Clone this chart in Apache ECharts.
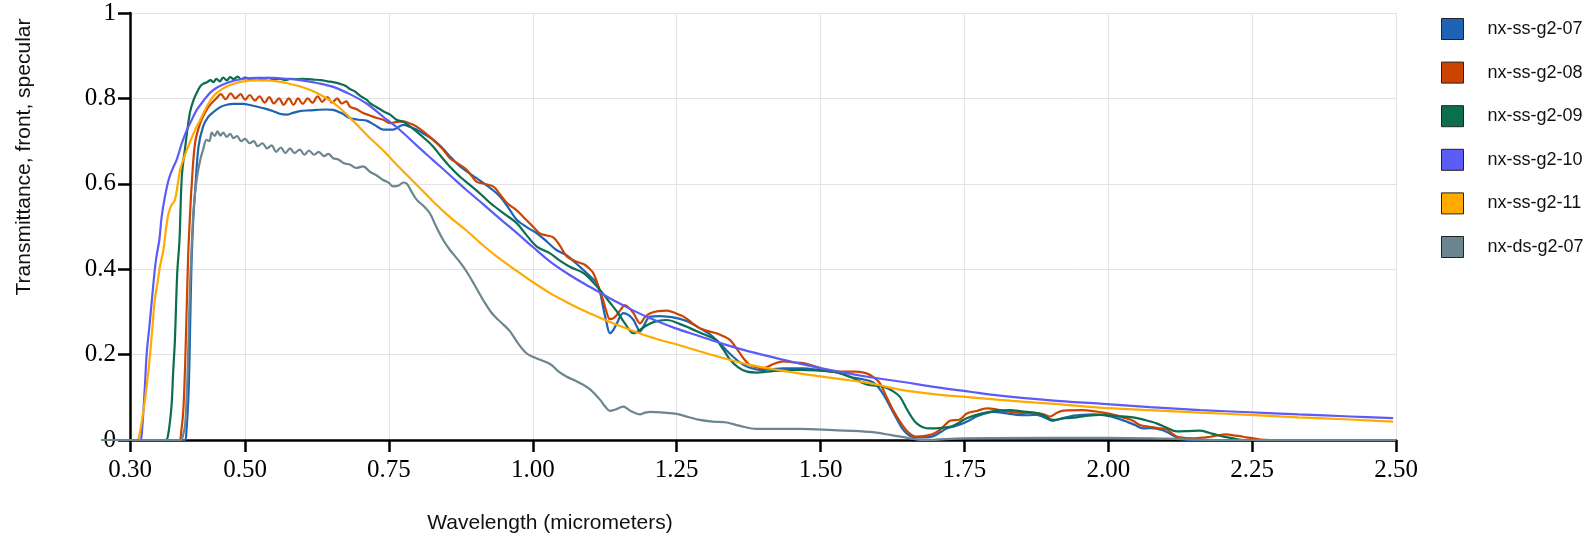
<!DOCTYPE html>
<html><head><meta charset="utf-8">
<script src="https://cdn.jsdelivr.net/npm/echarts@6/dist/echarts.min.js"></script>
<style>html,body{margin:0;padding:0;background:#fff}#c{width:1589px;height:538px}</style>
</head><body><div id="c"></div>
<script>
const seriesNames = ['nx-ss-g2-07','nx-ss-g2-08','nx-ss-g2-09','nx-ss-g2-10','nx-ss-g2-11','nx-ds-g2-07'];
const xTickValues = [0.30,0.50,0.75,1.00,1.25,1.50,1.75,2.00,2.25,2.50];
const xTitle = 'Wavelength (micrometers)';
const yTitle = 'Transmittance, front, specular';

const ss07 = [[0.25,0],[0.395,0],[0.398,0.02],[0.402,0.12],[0.405,0.3],[0.407,0.42],[0.41,0.52],[0.413,0.58],[0.419,0.687],[0.427,0.734],[0.435,0.755],[0.445,0.768],[0.456,0.779],[0.468,0.785],[0.48,0.787],[0.497,0.787],[0.51,0.784],[0.52,0.781],[0.535,0.776],[0.549,0.77],[0.56,0.764],[0.572,0.762],[0.583,0.766],[0.595,0.77],[0.61,0.772],[0.624,0.773],[0.64,0.774],[0.653,0.773],[0.668,0.765],[0.682,0.754],[0.697,0.75],[0.711,0.748],[0.725,0.738],[0.74,0.727],[0.757,0.727],[0.775,0.738],[0.787,0.733],[0.798,0.727],[0.812,0.716],[0.827,0.703],[0.842,0.685],[0.856,0.664],[0.87,0.645],[0.885,0.629],[0.9,0.615],[0.914,0.602],[0.929,0.587],[0.943,0.57],[0.957,0.545],[0.972,0.516],[0.99,0.498],[1.007,0.484],[1.024,0.465],[1.041,0.445],[1.059,0.432],[1.075,0.414],[1.088,0.398],[1.1,0.383],[1.111,0.367],[1.117,0.345],[1.122,0.312],[1.128,0.275],[1.134,0.25],[1.14,0.258],[1.146,0.273],[1.152,0.29],[1.157,0.297],[1.166,0.293],[1.175,0.281],[1.181,0.265],[1.186,0.254],[1.192,0.265],[1.198,0.281],[1.204,0.289],[1.22,0.29],[1.233,0.289],[1.248,0.286],[1.262,0.281],[1.276,0.273],[1.29,0.262],[1.305,0.25],[1.319,0.234],[1.333,0.215],[1.348,0.195],[1.366,0.176],[1.38,0.168],[1.395,0.164],[1.415,0.166],[1.435,0.168],[1.45,0.168],[1.47,0.168],[1.5,0.163],[1.522,0.16],[1.537,0.155],[1.551,0.148],[1.57,0.143],[1.586,0.138],[1.597,0.129],[1.61,0.105],[1.621,0.078],[1.633,0.048],[1.644,0.023],[1.655,0.01],[1.667,0.006],[1.682,0.006],[1.696,0.009],[1.708,0.018],[1.719,0.027],[1.735,0.033],[1.748,0.039],[1.76,0.047],[1.771,0.055],[1.786,0.062],[1.8,0.066],[1.82,0.063],[1.841,0.059],[1.86,0.058],[1.876,0.059],[1.89,0.052],[1.904,0.045],[1.915,0.049],[1.927,0.053],[1.94,0.057],[1.956,0.059],[1.975,0.06],[1.991,0.059],[2.01,0.053],[2.032,0.043],[2.045,0.036],[2.061,0.027],[2.075,0.028],[2.095,0.023],[2.108,0.014],[2.119,0.006],[2.13,0.002],[2.15,0],[2.5,0]];

const ss08 = [[0.25,0],[0.385,0],[0.389,0.02],[0.393,0.078],[0.397,0.234],[0.401,0.43],[0.404,0.52],[0.407,0.594],[0.413,0.695],[0.422,0.742],[0.433,0.773],[0.44,0.786],[0.45,0.8],[0.458,0.81],[0.466,0.798],[0.475,0.812],[0.483,0.8],[0.492,0.81],[0.5,0.797],[0.508,0.808],[0.517,0.795],[0.525,0.805],[0.534,0.79],[0.542,0.803],[0.55,0.788],[0.559,0.8],[0.567,0.785],[0.576,0.8],[0.584,0.785],[0.592,0.8],[0.6,0.787],[0.609,0.8],[0.617,0.79],[0.626,0.805],[0.634,0.792],[0.643,0.803],[0.651,0.79],[0.66,0.8],[0.668,0.788],[0.676,0.793],[0.682,0.781],[0.693,0.775],[0.705,0.766],[0.717,0.76],[0.729,0.754],[0.74,0.75],[0.752,0.742],[0.763,0.745],[0.775,0.746],[0.787,0.741],[0.798,0.734],[0.812,0.72],[0.827,0.703],[0.842,0.683],[0.856,0.66],[0.87,0.647],[0.885,0.633],[0.894,0.618],[0.902,0.605],[0.915,0.6],[0.931,0.594],[0.943,0.575],[0.955,0.555],[0.97,0.54],[0.983,0.523],[0.998,0.503],[1.012,0.484],[1.024,0.479],[1.036,0.474],[1.047,0.455],[1.059,0.43],[1.075,0.418],[1.088,0.412],[1.097,0.403],[1.105,0.391],[1.114,0.36],[1.122,0.328],[1.128,0.3],[1.134,0.283],[1.14,0.285],[1.146,0.293],[1.153,0.306],[1.16,0.316],[1.168,0.308],[1.175,0.297],[1.181,0.282],[1.186,0.273],[1.195,0.288],[1.204,0.297],[1.218,0.302],[1.233,0.303],[1.248,0.297],[1.262,0.289],[1.276,0.275],[1.29,0.262],[1.305,0.255],[1.319,0.25],[1.331,0.243],[1.343,0.234],[1.352,0.218],[1.36,0.203],[1.368,0.188],[1.377,0.176],[1.39,0.17],[1.4,0.168],[1.418,0.178],[1.435,0.184],[1.452,0.182],[1.47,0.18],[1.496,0.17],[1.522,0.16],[1.542,0.16],[1.562,0.16],[1.58,0.156],[1.592,0.147],[1.603,0.133],[1.615,0.1],[1.626,0.07],[1.638,0.043],[1.649,0.023],[1.658,0.012],[1.667,0.008],[1.679,0.009],[1.69,0.012],[1.698,0.016],[1.707,0.023],[1.716,0.035],[1.725,0.045],[1.742,0.048],[1.754,0.062],[1.771,0.068],[1.789,0.074],[1.812,0.07],[1.841,0.064],[1.876,0.063],[1.888,0.06],[1.899,0.055],[1.91,0.063],[1.922,0.069],[1.956,0.07],[1.991,0.064],[2.01,0.059],[2.025,0.053],[2.043,0.045],[2.055,0.035],[2.072,0.031],[2.086,0.028],[2.101,0.025],[2.112,0.014],[2.124,0.006],[2.15,0.004],[2.175,0.007],[2.19,0.011],[2.205,0.013],[2.217,0.011],[2.229,0.009],[2.24,0.006],[2.252,0.004],[2.265,0.001],[2.28,0],[2.5,0]];

const ss09 = [[0.25,0],[0.362,0],[0.366,0.01],[0.372,0.078],[0.375,0.16],[0.378,0.234],[0.382,0.39],[0.386,0.469],[0.39,0.617],[0.396,0.687],[0.404,0.766],[0.41,0.795],[0.416,0.813],[0.422,0.828],[0.427,0.834],[0.434,0.838],[0.44,0.843],[0.445,0.838],[0.45,0.846],[0.456,0.84],[0.462,0.849],[0.468,0.842],[0.474,0.85],[0.48,0.845],[0.487,0.851],[0.493,0.845],[0.5,0.849],[0.51,0.844],[0.52,0.847],[0.53,0.843],[0.54,0.848],[0.55,0.844],[0.56,0.846],[0.57,0.843],[0.58,0.846],[0.59,0.845],[0.6,0.846],[0.61,0.845],[0.62,0.844],[0.632,0.843],[0.643,0.84],[0.653,0.838],[0.665,0.834],[0.675,0.829],[0.682,0.822],[0.69,0.817],[0.7,0.806],[0.711,0.797],[0.717,0.789],[0.728,0.78],[0.74,0.77],[0.752,0.762],[0.763,0.75],[0.775,0.745],[0.787,0.734],[0.8,0.72],[0.813,0.705],[0.827,0.687],[0.84,0.665],[0.856,0.64],[0.873,0.617],[0.89,0.598],[0.91,0.575],[0.926,0.555],[0.95,0.53],[0.972,0.508],[0.99,0.478],[1.007,0.453],[1.03,0.437],[1.047,0.42],[1.065,0.405],[1.088,0.391],[1.103,0.372],[1.117,0.351],[1.132,0.325],[1.146,0.301],[1.16,0.273],[1.175,0.25],[1.19,0.262],[1.204,0.273],[1.218,0.279],[1.233,0.281],[1.255,0.272],[1.273,0.262],[1.296,0.248],[1.319,0.234],[1.331,0.212],[1.343,0.188],[1.357,0.17],[1.372,0.16],[1.39,0.158],[1.406,0.16],[1.435,0.163],[1.464,0.164],[1.49,0.163],[1.522,0.16],[1.551,0.148],[1.58,0.13],[1.609,0.125],[1.625,0.115],[1.638,0.101],[1.65,0.072],[1.66,0.05],[1.667,0.039],[1.678,0.03],[1.69,0.027],[1.707,0.028],[1.725,0.031],[1.74,0.04],[1.754,0.051],[1.774,0.06],[1.794,0.066],[1.81,0.069],[1.829,0.07],[1.85,0.067],[1.876,0.063],[1.89,0.056],[1.904,0.047],[1.925,0.051],[1.945,0.053],[1.965,0.057],[1.985,0.059],[2.015,0.056],[2.043,0.053],[2.063,0.047],[2.084,0.039],[2.1,0.03],[2.119,0.02],[2.14,0.021],[2.159,0.022],[2.175,0.017],[2.188,0.012],[2.2,0.008],[2.217,0.004],[2.235,0],[2.5,0]];

const ss10 = [[0.25,0],[0.318,0],[0.32,0.01],[0.323,0.063],[0.326,0.13],[0.329,0.203],[0.334,0.27],[0.338,0.328],[0.343,0.398],[0.346,0.43],[0.351,0.469],[0.355,0.523],[0.36,0.565],[0.367,0.609],[0.374,0.635],[0.381,0.656],[0.39,0.695],[0.399,0.727],[0.408,0.752],[0.416,0.773],[0.428,0.795],[0.439,0.813],[0.452,0.826],[0.468,0.836],[0.482,0.842],[0.497,0.846],[0.52,0.848],[0.549,0.848],[0.572,0.846],[0.595,0.843],[0.625,0.836],[0.653,0.827],[0.682,0.81],[0.711,0.788],[0.74,0.757],[0.769,0.726],[0.798,0.69],[0.827,0.655],[0.856,0.62],[0.885,0.585],[0.914,0.552],[0.943,0.518],[0.972,0.485],[1.0,0.452],[1.03,0.418],[1.06,0.39],[1.088,0.367],[1.117,0.345],[1.146,0.323],[1.175,0.303],[1.204,0.285],[1.247,0.262],[1.29,0.243],[1.333,0.224],[1.377,0.207],[1.42,0.193],[1.464,0.179],[1.52,0.163],[1.586,0.147],[1.638,0.137],[1.7,0.124],[1.76,0.113],[1.812,0.104],[1.9,0.093],[1.985,0.085],[2.072,0.077],[2.16,0.07],[2.246,0.065],[2.33,0.06],[2.42,0.055],[2.495,0.051]];

const ss11 = [[0.25,0],[0.312,0],[0.316,0.01],[0.32,0.04],[0.326,0.094],[0.331,0.15],[0.335,0.203],[0.339,0.265],[0.343,0.328],[0.348,0.37],[0.352,0.406],[0.358,0.445],[0.363,0.5],[0.367,0.531],[0.372,0.55],[0.378,0.562],[0.383,0.6],[0.387,0.633],[0.394,0.662],[0.401,0.687],[0.41,0.717],[0.422,0.75],[0.433,0.78],[0.445,0.805],[0.456,0.818],[0.468,0.828],[0.482,0.835],[0.497,0.84],[0.518,0.842],[0.538,0.842],[0.555,0.84],[0.572,0.836],[0.6,0.826],[0.624,0.813],[0.653,0.79],[0.682,0.755],[0.711,0.715],[0.74,0.678],[0.769,0.637],[0.798,0.598],[0.827,0.558],[0.856,0.522],[0.885,0.49],[0.91,0.46],[0.937,0.43],[0.97,0.398],[1.0,0.37],[1.03,0.344],[1.06,0.322],[1.088,0.303],[1.117,0.286],[1.146,0.27],[1.2,0.243],[1.262,0.219],[1.32,0.196],[1.377,0.176],[1.435,0.162],[1.493,0.15],[1.55,0.14],[1.586,0.133],[1.638,0.118],[1.7,0.107],[1.76,0.1],[1.812,0.094],[1.9,0.085],[1.985,0.076],[2.072,0.07],[2.16,0.064],[2.246,0.059],[2.33,0.053],[2.42,0.048],[2.495,0.043]];

const ds07 = [[0.25,0],[0.388,0],[0.392,0.01],[0.396,0.039],[0.4,0.156],[0.404,0.352],[0.407,0.45],[0.41,0.53],[0.413,0.578],[0.417,0.62],[0.422,0.656],[0.427,0.68],[0.433,0.703],[0.438,0.7],[0.442,0.72],[0.447,0.712],[0.452,0.723],[0.457,0.713],[0.462,0.72],[0.468,0.71],[0.474,0.717],[0.48,0.707],[0.486,0.712],[0.493,0.7],[0.5,0.705],[0.508,0.695],[0.515,0.7],[0.522,0.688],[0.53,0.695],[0.538,0.683],[0.546,0.69],[0.554,0.675],[0.562,0.685],[0.57,0.672],[0.578,0.683],[0.586,0.672],[0.595,0.68],[0.603,0.668],[0.611,0.678],[0.62,0.668],[0.628,0.675],[0.637,0.665],[0.645,0.67],[0.653,0.66],[0.662,0.657],[0.672,0.648],[0.682,0.645],[0.693,0.637],[0.705,0.641],[0.717,0.628],[0.728,0.62],[0.74,0.609],[0.75,0.602],[0.757,0.594],[0.767,0.596],[0.775,0.603],[0.781,0.6],[0.79,0.58],[0.798,0.563],[0.81,0.548],[0.821,0.531],[0.832,0.5],[0.844,0.469],[0.856,0.445],[0.873,0.417],[0.887,0.39],[0.9,0.36],[0.915,0.325],[0.93,0.295],[0.945,0.275],[0.96,0.255],[0.975,0.225],[0.99,0.202],[1.005,0.192],[1.03,0.178],[1.045,0.16],[1.059,0.148],[1.075,0.138],[1.088,0.129],[1.1,0.118],[1.117,0.094],[1.126,0.078],[1.134,0.068],[1.145,0.072],[1.157,0.078],[1.17,0.068],[1.186,0.06],[1.195,0.064],[1.204,0.066],[1.228,0.064],[1.25,0.061],[1.27,0.054],[1.29,0.047],[1.313,0.043],[1.337,0.041],[1.36,0.033],[1.389,0.026],[1.42,0.026],[1.464,0.026],[1.522,0.023],[1.586,0.019],[1.621,0.012],[1.655,0.004],[1.68,0],[1.75,0.004],[1.9,0.005],[2.0,0.005],[2.1,0.003],[2.2,0],[2.5,0]];

const seriesData = [ss07, ss08, ss09, ss10, ss11, ds07];
const colors = ['#1f63b4','#cc4400','#0b6e4f','#5b5bf6','#ffaa00','#6b868e'];

const chart = echarts.init(document.getElementById('c'), null, {renderer:'canvas'});
const serif = 'Liberation Serif, Times New Roman, serif';
const sans = 'Liberation Sans, Arial, sans-serif';

chart.setOption({
  backgroundColor: '#fff',
  animation: false,
  color: colors,
  grid: [
    {left: 130, right: 193, top: 13, bottom: 98, containLabel: false, outerBoundsMode: 'none'},
    {left: 101.25, right: 193, top: 13, bottom: 98, containLabel: false, outerBoundsMode: 'none'}
  ],
  legend: {
    orient: 'vertical', left: 1436, top: 13,
    icon: 'rect', itemWidth: 22, itemHeight: 21, itemGap: 21.6,
    itemStyle: {borderColor: '#222', borderWidth: 1},
    textStyle: {fontFamily: sans, fontSize: 18, color: '#111', padding: [0,0,0,19]},
    data: seriesNames
  },
  graphic: [
    {type: 'text', x: 550, y: 523, z: 10, style: {text: xTitle, font: '21px ' + sans, fill: '#111', textAlign: 'center', textVerticalAlign: 'middle'}},
    {type: 'text', x: 24, y: 157, z: 10, rotation: Math.PI/2, style: {text: yTitle, font: '21px ' + sans, fill: '#111', textAlign: 'center', textVerticalAlign: 'middle'}}
  ],
  xAxis: [{
    gridIndex: 0, type: 'value', min: 0.3, max: 2.5,
    axisLine: {show: true, onZero: false, lineStyle: {color: '#000', width: 2.5}},
    axisTick: {show: true, length: 12, lineStyle: {color: '#000', width: 2.5}, customValues: xTickValues},
    axisLabel: {customValues: xTickValues, formatter: v => v.toFixed(2), fontFamily: serif, fontSize: 25, color: '#000', margin: 18},
    splitLine: {show: true, lineStyle: {color: '#e3e3e3', width: 1}}
  }, {
    gridIndex: 1, type: 'value', min: 0.25, max: 2.5, show: false
  }],
  yAxis: [{
    gridIndex: 0, type: 'value', min: 0, max: 1, interval: 0.2,
    axisLine: {show: true, lineStyle: {color: '#000', width: 2.5}},
    axisTick: {show: true, length: 12, lineStyle: {color: '#000', width: 2.5}},
    axisLabel: {fontFamily: serif, fontSize: 25, color: '#000', margin: 14,
      formatter: v => (v === 0 ? '0' : v === 1 ? '1' : v.toFixed(1))},
    splitLine: {show: true, lineStyle: {color: '#e3e3e3', width: 1}}
  }, {
    gridIndex: 1, type: 'value', min: 0, max: 1, show: false
  }],
  series: seriesNames.map((name, i) => ({
    name, type: 'line', xAxisIndex: 1, yAxisIndex: 1, data: seriesData[i],
    showSymbol: false, symbol: 'none', clip: false, smooth: 0.35, z: 5,
    lineStyle: {width: 2.2, color: colors[i]}, itemStyle: {color: colors[i]}
  }))
});
</script></body></html>
